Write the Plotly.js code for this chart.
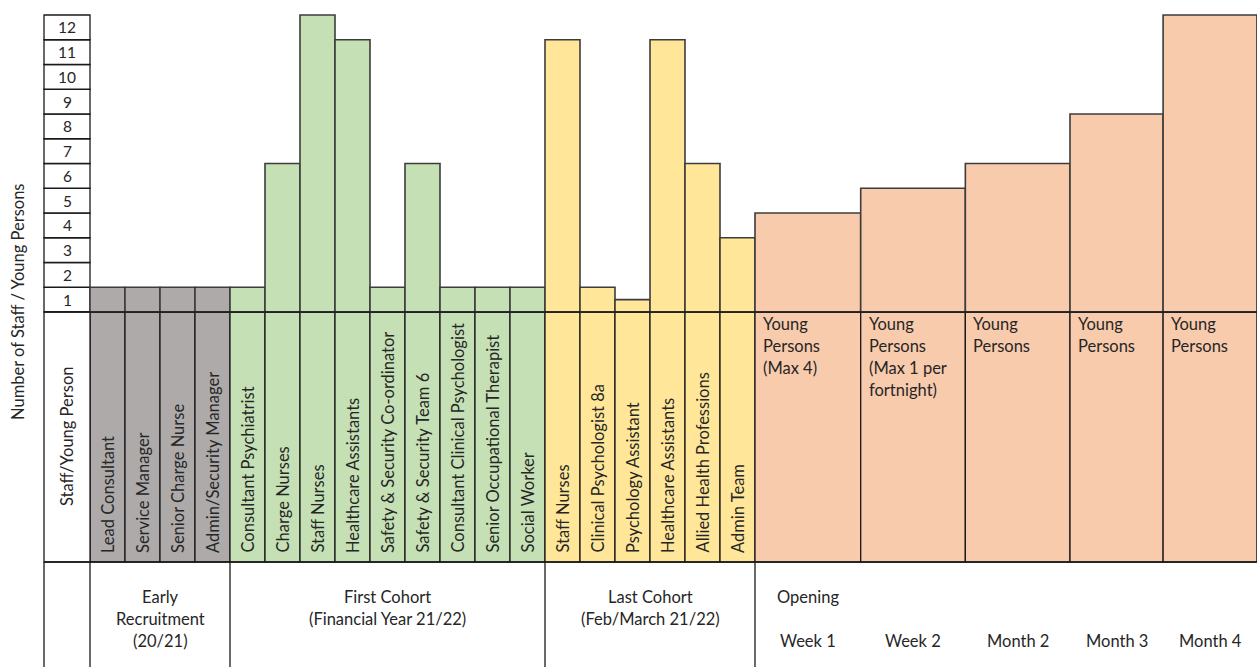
<!DOCTYPE html>
<html><head><meta charset="utf-8">
<script src="https://cdn.plot.ly/plotly-3.0.1.min.js"></script>
<style>html,body{margin:0;padding:0;background:#fff}#chart{width:1257px;height:667px}</style>
</head><body><div id="chart"></div>
<script>
// ---------------- data ----------------
const groupLabels = ["Early\nRecruitment\n(20/21)", "First Cohort\n(Financial Year 21/22)", "Last Cohort\n(Feb/March 21/22)", "Opening"];
const earlyRoles = ["Lead Consultant", "Service Manager", "Senior Charge Nurse", "Admin/Security Manager"];
const earlyValues = [1, 1, 1, 1];
const firstRoles = ["Consultant Psychiatrist", "Charge Nurses", "Staff Nurses", "Healthcare Assistants", "Safety & Security Co-ordinator", "Safety & Security Team 6", "Consultant Clinical Psychologist", "Senior Occupational Therapist", "Social Worker"];
const firstValues = [1, 6, 12, 11, 1, 6, 1, 1, 1];
const lastRoles = ["Staff Nurses", "Clinical Psychologist 8a", "Psychology Assistant", "Healthcare Assistants", "Allied Health Professions", "Admin Team"];
const lastValues = [11, 1, 0.5, 11, 6, 3];
const openingPeriods = ["Week 1", "Week 2", "Month 2", "Month 3", "Month 4"];
const openingLabels = ["Young\nPersons\n(Max 4)", "Young\nPersons\n(Max 1 per\nfortnight)", "Young\nPersons", "Young\nPersons", "Young\nPersons"];
const openingValues = [4, 5, 6, 8, 12];
const yTickLabels = ["1", "2", "3", "4", "5", "6", "7", "8", "9", "10", "11", "12"];
const yAxisTitle = "Number of Staff / Young Persons";
const rowHeaderTitle = "Staff/Young Person";

// ---------------- layout config ----------------
const W = 1257, H = 667;
const X0 = 90, PXU = 35;      // px of x=0, px per x unit
const Y0 = 312, PYU = 24.75;  // px of y=0, px per y unit
const ux = px => (px - X0) / PXU;
const uy = py => (Y0 - py) / PYU;
const py2paper = py => 1 - py / H;
const LB = uy(562);           // bottom of label band
const NL = ux(44);            // left of number column
const YB = uy(H);
const colors = ["#AEAAAA", "#C5E0B4", "#FFE699", "#F8CBAD"];
const lineCol = "#1a1a1a";
const barLine = "#3c3c3c";
const txtCol = "#262626";
const FONT = "Lato, 'Open Sans', sans-serif";
const FS = 16.5;

const groups = [
  {roles: earlyRoles, values: earlyValues, widths: earlyRoles.map(() => 1)},
  {roles: firstRoles, values: firstValues, widths: firstRoles.map(() => 1)},
  {roles: lastRoles, values: lastValues, widths: lastRoles.map(() => 1)},
  {roles: openingPeriods, values: openingValues, widths: [3.02, 2.99, 2.99, 2.66, 2.68]}
];

const traces = [], shapes = [], annotations = [];
let cursor = 0;
const groupBounds = [];
groups.forEach((g, gi) => {
  const xs = [], lefts = [];
  const start = cursor;
  g.widths.forEach(w => { lefts.push(cursor); xs.push(cursor + w / 2); cursor += w; });
  groupBounds.push([start, cursor]);
  traces.push({
    type: "bar", x: xs, y: g.values, width: g.widths, base: 0,
    marker: {color: colors[gi], line: {color: barLine, width: 1.6}},
    hoverinfo: "skip", showlegend: false
  });
  // label band cells
  g.widths.forEach((w, i) => {
    shapes.push({type: "rect", layer: "below", xref: "x", yref: "y", x0: lefts[i], x1: lefts[i] + w, y0: LB, y1: 0,
      fillcolor: colors[gi], line: {color: lineCol, width: 1.3}});
    if (gi < 3) {
      annotations.push({xref: "x", yref: "y", x: xs[i], y: LB, yshift: 7, yanchor: "bottom", xanchor: "center",
        textangle: -90, text: g.roles[i], showarrow: false, font: {family: FONT, size: FS, color: txtCol}});
    } else {
      openingLabels[i].split("\n").forEach((line, li) => {
        annotations.push({xref: "x", yref: "paper", x: lefts[i] + 6 / PXU, y: py2paper(324 + 22 * li), xanchor: "left", yanchor: "middle",
          text: line, showarrow: false, font: {family: FONT, size: FS, color: txtCol}});
      });
      annotations.push({xref: "x", yref: "paper", x: xs[i], y: py2paper(641), xanchor: "center", yanchor: "middle",
        text: g.roles[i], showarrow: false, font: {family: FONT, size: FS, color: txtCol}});
    }
  });
  // group label
  const lines = groupLabels[gi].split("\n");
  const gx = gi < 3 ? (start + cursor) / 2 : xs[0];
  lines.forEach((line, li) => {
    annotations.push({xref: "x", yref: "paper", x: gx, y: py2paper(597 + 22 * li), xanchor: "center", yanchor: "middle",
      text: line, showarrow: false, font: {family: FONT, size: FS, color: txtCol}});
  });
});
const XR = cursor;

// number column cells
yTickLabels.forEach((t, k) => {
  shapes.push({type: "rect", layer: "below", xref: "x", yref: "y", x0: NL, x1: 0, y0: k, y1: k + 1,
    fillcolor: "#fff", line: {color: lineCol, width: 1.3}});
  annotations.push({xref: "x", yref: "y", x: NL / 2, y: k + 0.5, xanchor: "center", yanchor: "middle", text: t, showarrow: false,
    font: {family: FONT, size: FS - 1, color: txtCol}});
});
// row header cell
shapes.push({type: "rect", layer: "below", xref: "x", yref: "y", x0: NL, x1: 0, y0: LB, y1: 0,
  fillcolor: "#fff", line: {color: lineCol, width: 1.3}});
annotations.push({xref: "x", yref: "paper", x: NL / 2, y: py2paper(437), xanchor: "center", yanchor: "middle", textangle: -90, text: rowHeaderTitle,
  showarrow: false, font: {family: FONT, size: FS, color: txtCol}});
// horizontal band lines
[0, LB].forEach(yv => shapes.push({type: "line", xref: "x", yref: "y", x0: NL, x1: XR, y0: yv, y1: yv,
  line: {color: lineCol, width: 1.4}}));
// vertical lines in bottom category band
[NL, 0].concat(groupBounds.map(b => b[1]).slice(0, 3)).forEach(xv => shapes.push({type: "line", xref: "x", yref: "y",
  x0: xv, x1: xv, y0: YB, y1: LB, line: {color: lineCol, width: 1.3}}));
// y title
annotations.push({xref: "paper", yref: "paper", x: 18 / W, y: py2paper(302), xanchor: "center", yanchor: "middle", textangle: -90, text: yAxisTitle,
  showarrow: false, font: {family: FONT, size: FS, color: txtCol}});

const layout = {
  width: W, height: H, margin: {l: 0, r: 0, t: 0, b: 0},
  paper_bgcolor: "#fff", plot_bgcolor: "#fff",
  barmode: "overlay", bargap: 0,
  xaxis: {range: [ux(0), ux(W)], visible: false, fixedrange: true},
  yaxis: {range: [YB, uy(0)], visible: false, fixedrange: true},
  shapes: shapes, annotations: annotations, showlegend: false
};
Plotly.newPlot("chart", traces, layout, {staticPlot: true});
</script>
</body></html>
